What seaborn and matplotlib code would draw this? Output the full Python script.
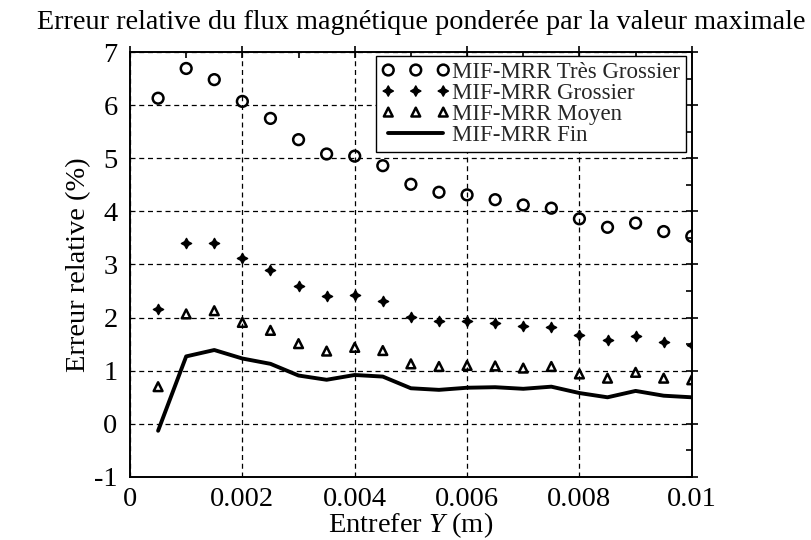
import numpy as np
import pandas as pd
import matplotlib
matplotlib.use("Agg")
import matplotlib.pyplot as plt
from matplotlib.ticker import MultipleLocator, FixedLocator, FixedFormatter
import seaborn as sns

# Air-gap values (m)
entrefer = [0.0005, 0.001, 0.0015, 0.002, 0.0025, 0.003, 0.0035, 0.004, 0.0045, 0.005,
            0.0055, 0.006, 0.0065, 0.007, 0.0075, 0.008, 0.0085, 0.009, 0.0095, 0.01]

# Relative error (%) for each mesh refinement
tres_grossier = [6.13, 6.69, 6.48, 6.07, 5.75, 5.35, 5.08, 5.04, 4.86, 4.51,
                 4.36, 4.31, 4.22, 4.12, 4.06, 3.86, 3.70, 3.78, 3.62, 3.53]
grossier = [2.17, 3.41, 3.41, 3.12, 2.89, 2.59, 2.41, 2.43, 2.32, 2.02,
            1.94, 1.94, 1.89, 1.84, 1.83, 1.68, 1.57, 1.66, 1.54, 1.49]
moyen = [0.70, 2.07, 2.13, 1.91, 1.76, 1.51, 1.37, 1.44, 1.38, 1.13,
         1.08, 1.10, 1.09, 1.05, 1.08, 0.94, 0.86, 0.97, 0.86, 0.83]
fin = [-0.13, 1.27, 1.39, 1.23, 1.13, 0.91, 0.83, 0.92, 0.89, 0.67,
       0.64, 0.68, 0.69, 0.66, 0.70, 0.58, 0.50, 0.62, 0.53, 0.50]

xtick_vals = [0, 0.002, 0.004, 0.006, 0.008, 0.01]
xtick_labels = ["0", "0.002", "0.004", "0.006", "0.008", "0.01"]
ytick_vals = [-1, 0, 1, 2, 3, 4, 5, 6, 7]
ytick_labels = ["-1", "0", "1", "2", "3", "4", "5", "6", "7"]

sns.set_theme(style="white")
plt.rcParams["font.family"] = ["Liberation Serif", "DejaVu Serif"]
plt.rcParams["mathtext.fontset"] = "custom"
plt.rcParams["mathtext.it"] = "Liberation Serif:italic"
plt.rcParams["mathtext.rm"] = "Liberation Serif"

df = pd.DataFrame({"x": entrefer, "tg": tres_grossier, "g": grossier,
                   "m": moyen, "f": fin})

fig = plt.figure(figsize=(8.11, 5.40), dpi=100)
ax = fig.add_axes([0.1603, 0.1167, 0.6927, 0.787])

sns.scatterplot(data=df, x="x", y="tg", ax=ax, marker="o", s=60,
                facecolor="none", edgecolor="black", linewidth=1.8,
                label="MIF-MRR Très Grossier", zorder=3)
sns.scatterplot(data=df, x="x", y="g", ax=ax, marker=(4, 1, 0), s=55,
                color="black", edgecolor="black", linewidth=1.0,
                label="MIF-MRR Grossier", zorder=3)
sns.scatterplot(data=df, x="x", y="m", ax=ax, marker="^", s=40,
                facecolor="none", edgecolor="black", linewidth=1.8,
                label="MIF-MRR Moyen", zorder=3)
sns.lineplot(data=df, x="x", y="f", ax=ax, color="black", linewidth=2.8,
             label="MIF-MRR Fin", zorder=3)

ax.set_xlim(0, 0.01)
ax.set_ylim(-1, 7)
ax.xaxis.set_major_locator(FixedLocator(xtick_vals))
ax.xaxis.set_major_formatter(FixedFormatter(xtick_labels))
ax.xaxis.set_minor_locator(MultipleLocator(0.001))
ax.yaxis.set_major_locator(FixedLocator(ytick_vals))
ax.yaxis.set_major_formatter(FixedFormatter(ytick_labels))
ax.yaxis.set_minor_locator(MultipleLocator(0.5))

ax.grid(True, which="major", color="black", linestyle=(0, (4, 3)), linewidth=0.9)
ax.set_axisbelow(True)
for sp in ax.spines.values():
    sp.set_visible(True)
    sp.set_color("black")
    sp.set_linewidth(1.4)

ax.tick_params(axis="both", which="major", direction="inout", length=8, width=1.2,
               colors="black", labelsize=20.5, top=True, right=True)
ax.tick_params(axis="x", which="major", pad=3)
ax.tick_params(axis="y", which="major", pad=5)
ax.tick_params(axis="both", which="minor", direction="in", length=4, width=1.2,
               colors="black", top=True, right=True)

ax.set_xlabel(r"Entrefer $Y$ (m)", fontsize=20.5, labelpad=-1, color="black")
ax.set_ylabel("Erreur relative (%)", fontsize=20.5, labelpad=2, color="black")

fig.text(0.519, 0.958, "Erreur relative du flux magnétique ponderée par la valeur maximale",
         ha="center", va="center", fontsize=20.3, color="black")

leg = ax.legend(loc="upper right", bbox_to_anchor=(0.99, 0.99), fontsize=16.5,
                frameon=True, fancybox=False, edgecolor="black", framealpha=1,
                scatterpoints=3, scatteryoffsets=[0.5], numpoints=3,
                handlelength=3.0, handletextpad=0.1, labelspacing=0.0,
                borderpad=0.25, borderaxespad=0.0)
leg.get_frame().set_linewidth(1.0)

fig.savefig("out.png", dpi=100)
